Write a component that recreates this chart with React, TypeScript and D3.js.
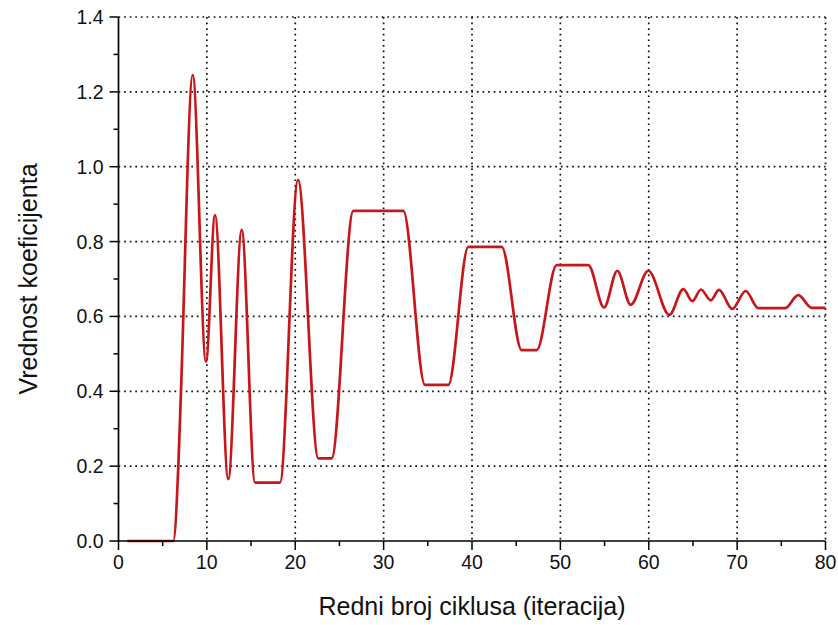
import React from "react";
import * as d3 from "d3";

// Iteration (cycle) positions of the curve's knots and the coefficient value at each
const cycleKnots = [
  1, 6.2, 6.77, 7.07, 8.4, 9.9, 10.92, 12.42, 13.94, 15.45, 18.27, 20.31,
  22.61, 24.12, 26.57, 32.23, 34.68, 37.32, 39.58, 43.36, 45.62, 47.32,
  49.58, 53.16, 54.94, 56.44, 57.96, 59.95, 62.33, 63.91, 64.93, 65.91,
  67.01, 67.95, 69.45, 70.97, 72.39, 75.41, 76.92, 78.44, 80,
];
const coefValues = [
  0, 0, 0.2, 0.4, 1.245, 0.479, 0.871, 0.165, 0.831, 0.156, 0.156, 0.965,
  0.221, 0.221, 0.882, 0.882, 0.417, 0.417, 0.786, 0.786, 0.51, 0.51,
  0.737, 0.737, 0.624, 0.722, 0.631, 0.722, 0.604, 0.673, 0.641, 0.672,
  0.643, 0.671, 0.62, 0.668, 0.622, 0.622, 0.657, 0.623, 0.623,
];

const xMajorTicks = [0, 10, 20, 30, 40, 50, 60, 70, 80];
const xMinorTicks = [5, 15, 25, 35, 45, 55, 65, 75];
const yMajorTicks = [0, 0.2, 0.4, 0.6, 0.8, 1.0, 1.2, 1.4];
const yMinorTicks = [0.1, 0.3, 0.5, 0.7, 0.9, 1.1, 1.3];

const xTitle = "Redni broj ciklusa (iteracija)";
const yTitle = "Vrednost koeficijenta";

const W = 838;
const H = 625;
const left = 118.5;
const right = 825.5;
const top = 17;
const bottom = 541;

export default function App() {
  const x = d3.scaleLinear().domain([0, 80]).range([left, right]);
  const y = d3.scaleLinear().domain([0, 1.4]).range([bottom, top]);

  const points: [number, number][] = cycleKnots.map((c, i) => [c, coefValues[i]]);
  const line = d3
    .line<[number, number]>()
    .x((d) => x(d[0]))
    .y((d) => y(d[1]))
    .curve(d3.curveMonotoneX);

  const font = "Arial, 'Liberation Sans', sans-serif";
  const grid = { stroke: "#111", strokeWidth: 1.7, strokeDasharray: "1.7,3.9" };

  return (
    <svg
      width={W}
      height={H}
      style={{ position: "absolute", left: 0, top: 0, background: "#fff" }}
      fontFamily={font}
    >
      <rect width={W} height={H} fill="#fff" />
      {/* dotted grid */}
      {yMajorTicks
        .filter((v) => v > 0)
        .map((v) => (
          <line key={"gy" + v} x1={left} x2={right} y1={y(v)} y2={y(v)} {...grid} />
        ))}
      {xMajorTicks
        .filter((v) => v > 0)
        .map((v) => (
          <line key={"gx" + v} x1={x(v)} x2={x(v)} y1={top} y2={bottom} {...grid} />
        ))}

      {/* curve */}
      <path
        d={line(points) || ""}
        fill="none"
        stroke="#c8171b"
        strokeWidth={2.7}
        strokeLinejoin="round"
      />

      {/* axes */}
      <line x1={left} x2={left} y1={top} y2={bottom} stroke="#000" strokeWidth={1.7} />
      <line x1={left} x2={right} y1={bottom} y2={bottom} stroke="#000" strokeWidth={1.7} />
      {yMajorTicks.map((v) => (
        <g key={"ty" + v}>
          <line x1={left - 9} x2={left} y1={y(v)} y2={y(v)} stroke="#000" strokeWidth={1.5} />
          <text
            x={left - 15}
            y={y(v)}
            dy="0.36em"
            textAnchor="end"
            fontSize={19.5}
            fill="#111"
          >
            {d3.format(".1f")(v)}
          </text>
        </g>
      ))}
      {yMinorTicks.map((v) => (
        <line key={"my" + v} x1={left - 5} x2={left} y1={y(v)} y2={y(v)} stroke="#000" strokeWidth={1.5} />
      ))}
      {xMajorTicks.map((v) => (
        <g key={"tx" + v}>
          <line x1={x(v)} x2={x(v)} y1={bottom} y2={bottom + 9} stroke="#000" strokeWidth={1.5} />
          <text x={x(v)} y={569} textAnchor="middle" fontSize={19.5} fill="#111">
            {v}
          </text>
        </g>
      ))}
      {xMinorTicks.map((v) => (
        <line key={"mx" + v} x1={x(v)} x2={x(v)} y1={bottom} y2={bottom + 5} stroke="#000" strokeWidth={1.5} />
      ))}

      {/* axis titles */}
      <text x={472} y={615} textAnchor="middle" fontSize={25} fill="#111">
        {xTitle}
      </text>
      <text
        transform={`translate(37,${(top + bottom) / 2}) rotate(-90)`}
        textAnchor="middle"
        fontSize={25}
        fill="#111"
      >
        {yTitle}
      </text>
    </svg>
  );
}
